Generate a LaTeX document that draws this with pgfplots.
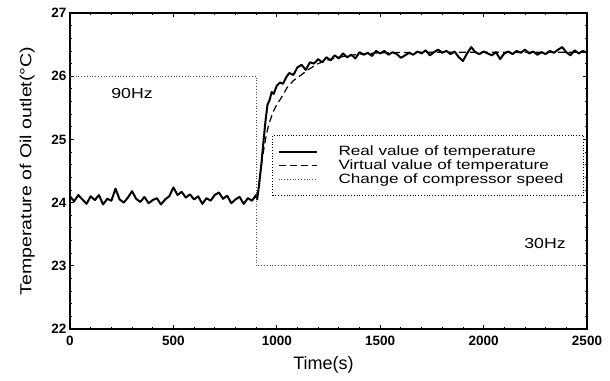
\documentclass[border=0pt]{standalone}
\usepackage{fontspec}
\setmainfont{Liberation Sans}
\newfontfamily\widefont[FakeStretch=1.22]{Liberation Sans}
\newfontfamily\widerfont[FakeStretch=1.27]{Liberation Sans}
\usepackage{pgfplots}
\pgfplotsset{compat=1.18}
\begin{document}
\begin{tikzpicture}
\begin{axis}[
  scale only axis,
  width=517pt, height=316pt,
  xmin=0, xmax=2500, ymin=22, ymax=27,
  xtick={0,500,1000,1500,2000,2500},
  ytick={22,23,24,25,26,27},
  minor x tick num=4,
  minor y tick num=4,
  tick align=inside,
  major tick length=4pt, minor tick length=2pt,
  axis line style={line width=1.6pt},
  every tick/.style={black, line width=0.8pt},
  /pgf/number format/assume math mode=true,
  /pgf/number format/1000 sep={},
  ticklabel style={font=\bfseries\fontsize{13.5}{14}\selectfont},
  xticklabel style={yshift=-4pt},
  yticklabel style={xshift=0pt},
  xlabel={Time(s)},
  ylabel={Temperature of Oil outlet(°C)},
  xlabel style={font=\fontsize{18}{20}\selectfont, yshift=-3pt, xshift=-5pt},
  ylabel style={font=\widefont\fontsize{16}{18}\selectfont, yshift=10pt},
  legend style={at={(rel axis cs:0.391,0.614)}, anchor=north west,
    draw=black, dotted, line width=0.8pt,
    font=\widerfont\fontsize{13.5}{14}\selectfont, inner xsep=5pt, inner ysep=10pt,
    row sep=1.5pt,
    nodes={inner ysep=0pt, text height=10pt, text depth=2.5pt}},
  legend cell align=left,
  legend image code/.code={\draw[#1] (0pt,0pt) -- (38pt,0pt); \path[draw=none,fill=none] (0pt,-1pt) rectangle (58pt,1pt);},
]
\addplot[black, solid, line width=2pt, line join=round] coordinates {
(0,24.10)(20,24.02)(40,24.12)(60,24.05)(80,23.98)(100,24.10)(120,24.04)(140,24.12)(160,23.97)(180,24.06)
(200,24.03)(220,24.22)(240,24.05)(260,24.00)(280,24.08)(300,24.18)(320,24.06)(340,24.01)(360,24.09)(380,23.99)
(400,24.04)(420,24.07)(440,23.97)(460,24.05)(480,24.10)(500,24.24)(520,24.12)(540,24.17)(560,24.08)(580,24.13)
(600,24.05)(620,24.10)(640,23.98)(660,24.07)(680,24.03)(700,24.12)(720,24.16)(740,24.06)(760,24.11)(780,23.99)
(800,24.05)(820,24.09)(840,23.98)(860,24.07)(880,24.03)(900,24.12)(905,24.05)(915,24.30)(925,24.60)(935,24.95)
(945,25.28)(955,25.55)(965,25.62)(975,25.75)(985,25.72)(1000,25.85)(1015,25.90)(1030,25.88)(1045,25.98)(1060,26.05)
(1080,26.02)(1100,26.14)(1120,26.18)(1140,26.10)(1160,26.22)(1180,26.20)(1200,26.27)(1220,26.22)(1240,26.30)(1260,26.25)
(1280,26.33)(1300,26.28)(1320,26.36)(1340,26.30)(1360,26.34)(1380,26.28)(1400,26.38)(1420,26.34)(1440,26.37)(1460,26.32)
(1480,26.40)(1500,26.36)(1520,26.40)(1540,26.34)(1560,26.38)(1580,26.35)(1600,26.29)(1620,26.33)(1640,26.37)(1660,26.34)
(1680,26.39)(1700,26.36)(1720,26.41)(1740,26.33)(1760,26.38)(1780,26.42)(1800,26.37)(1820,26.40)(1840,26.35)(1860,26.39)
(1880,26.30)(1900,26.24)(1920,26.36)(1940,26.46)(1960,26.38)(1980,26.35)(2000,26.39)(2020,26.36)(2040,26.33)(2060,26.38)
(2080,26.27)(2100,26.36)(2120,26.39)(2140,26.35)(2160,26.40)(2180,26.37)(2200,26.42)(2220,26.36)(2240,26.39)(2260,26.34)
(2280,26.38)(2300,26.35)(2320,26.40)(2340,26.37)(2360,26.42)(2380,26.46)(2400,26.38)(2420,26.33)(2440,26.41)(2460,26.36)
(2480,26.40)(2500,26.37)
};
\addlegendentry{\makebox[238pt][l]{Real value of temperature}}
\addplot[black, line width=1.2pt, dash pattern=on 7pt off 4pt] coordinates {
(900,24.08)(910,24.20)(920,24.45)(930,24.70)(940,24.90)(950,25.08)(960,25.22)(980,25.42)(1000,25.55)(1020,25.65)
(1050,25.82)(1080,25.93)(1110,26.00)(1150,26.10)(1200,26.20)(1250,26.26)(1300,26.30)(1400,26.35)(1500,26.37)(1700,26.38)
(2000,26.38)(2500,26.38)
};
\addlegendentry{Virtual value of temperature}
\addplot[black!70, line width=0.8pt, dotted] coordinates {
(0,26)(900,26)(900,23)(2500,23)
};
\addlegendentry{Change of compressor speed}
\node[font=\widefont\fontsize{14.5}{16}\selectfont] at (axis cs:300,25.73) {90Hz};
\node[font=\widefont\fontsize{14.5}{16}\selectfont] at (axis cs:2297,23.36) {30Hz};
\end{axis}
\path[use as bounding box] (-70pt,-51pt) rectangle (540pt,329pt);
\end{tikzpicture}
\end{document}
